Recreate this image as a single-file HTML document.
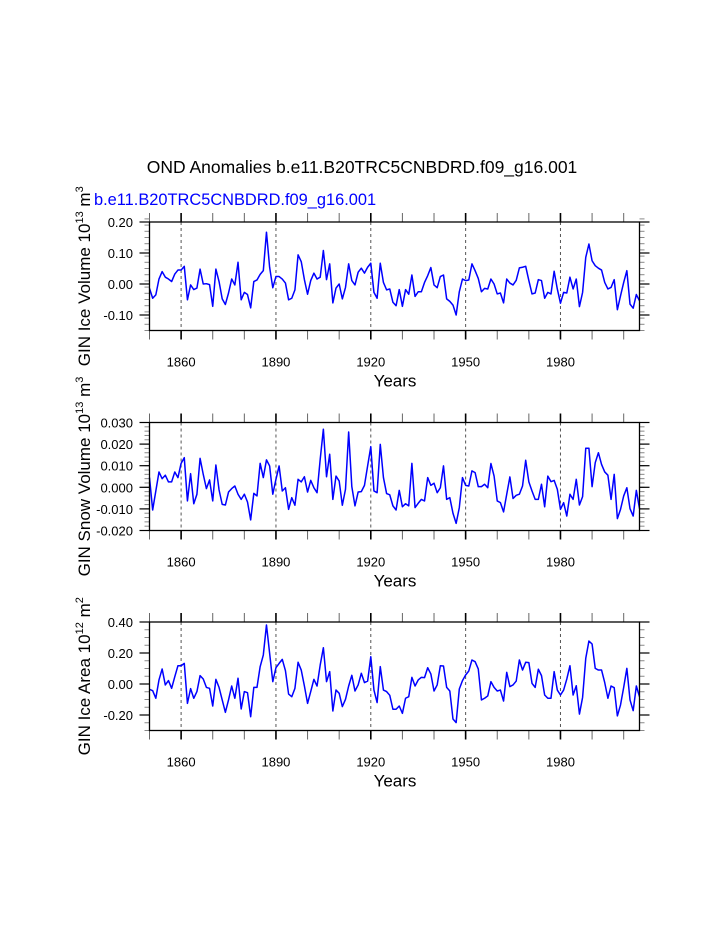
<!DOCTYPE html>
<html><head><meta charset="utf-8"><style>
html,body{margin:0;padding:0;background:#fff;}
svg{display:block;font-family:"Liberation Sans",Arial,sans-serif;}
</style></head><body>
<svg id="chart" width="723" height="935" xmlns="http://www.w3.org/2000/svg">
<text x="362" y="173" text-anchor="middle" font-size="17.5">OND Anomalies b.e11.B20TRC5CNBDRD.f09_g16.001</text>
<text x="94" y="205" font-size="16.4" fill="#0000ff">b.e11.B20TRC5CNBDRD.f09_g16.001</text>
</svg>
<script>
const startYear = 1850;
const xTicks = [1860, 1890, 1920, 1950, 1980];
const iceVolume = [-0.014,-0.046,-0.035,0.016,0.040,0.022,0.016,0.008,0.032,0.045,0.045,0.057,-0.051,-0.003,-0.018,-0.013,0.048,0.000,0.001,-0.002,-0.072,0.048,0.008,-0.048,-0.066,-0.029,0.016,-0.003,0.070,-0.051,-0.027,-0.034,-0.077,0.008,0.013,0.031,0.043,0.167,0.054,-0.012,0.024,0.024,0.016,0.003,-0.051,-0.046,-0.019,0.094,0.072,0.014,-0.033,0.011,0.035,0.016,0.022,0.108,0.014,0.065,-0.061,-0.013,0.000,-0.048,-0.011,0.065,0.011,-0.003,0.038,0.051,0.035,0.054,0.067,-0.027,-0.046,0.067,0.005,-0.019,-0.016,-0.059,-0.070,-0.018,-0.072,-0.018,-0.033,0.029,-0.040,-0.025,-0.025,0.005,0.027,0.053,-0.003,-0.012,0.024,0.029,-0.048,-0.056,-0.068,-0.100,-0.025,0.016,0.011,0.013,0.065,0.043,0.018,-0.025,-0.014,-0.016,0.016,0.000,-0.032,-0.029,-0.061,0.016,0.003,-0.003,0.012,0.052,0.054,0.057,0.011,-0.032,-0.029,0.014,0.011,-0.046,-0.027,-0.032,0.041,-0.016,-0.062,-0.027,-0.029,0.022,-0.016,0.016,-0.073,-0.027,0.086,0.129,0.075,0.059,0.051,0.045,0.005,-0.016,-0.011,0.014,-0.083,-0.038,0.005,0.043,-0.065,-0.078,-0.034,-0.054];
const snowVolume = [0.0045,-0.0105,-0.0017,0.0071,0.0040,0.0056,0.0025,0.0025,0.0071,0.0045,0.0111,0.0137,-0.0063,0.0063,-0.0076,-0.0032,0.0134,0.0060,-0.0006,0.0034,-0.0063,0.0103,-0.0012,-0.0079,-0.0082,-0.0022,-0.0006,0.0006,-0.0032,-0.0056,-0.0032,-0.0068,-0.0151,-0.0028,-0.0040,0.0111,0.0045,0.0127,0.0099,-0.0032,0.0037,0.0099,-0.0017,-0.0002,-0.0102,-0.0048,-0.0083,0.0037,0.0025,0.0049,-0.0022,0.0032,-0.0002,-0.0025,0.0130,0.0269,0.0049,0.0153,-0.0056,0.0052,0.0029,-0.0083,-0.0009,0.0256,0.0003,-0.0086,-0.0022,-0.0020,0.0009,0.0099,0.0188,-0.0017,-0.0025,0.0199,0.0045,-0.0029,-0.0035,-0.0086,-0.0105,-0.0014,-0.0090,-0.0076,-0.0086,0.0111,-0.0094,-0.0074,-0.0056,-0.0063,0.0045,0.0009,0.0019,-0.0025,-0.0002,0.0099,-0.0056,-0.0048,-0.0120,-0.0167,-0.0094,0.0045,0.0009,0.0006,0.0076,0.0068,0.0003,0.0003,0.0014,-0.0002,0.0110,0.0052,-0.0063,-0.0071,-0.0114,-0.0032,0.0048,-0.0052,-0.0037,-0.0032,0.0006,0.0125,0.0025,-0.0017,-0.0056,-0.0056,0.0014,-0.0090,0.0052,0.0026,0.0032,-0.0009,-0.0102,-0.0071,-0.0133,-0.0032,-0.0056,0.0037,-0.0082,-0.0043,0.0181,0.0181,0.0003,0.0114,0.0160,0.0106,0.0071,0.0056,-0.0056,0.0060,-0.0145,-0.0102,-0.0040,-0.0002,-0.0099,-0.0133,-0.0014,-0.0099];
const iceArea = [-0.034,-0.043,-0.092,0.026,0.097,-0.006,0.022,-0.028,0.047,0.118,0.118,0.133,-0.125,-0.030,-0.092,-0.049,0.054,0.032,-0.022,-0.028,-0.142,0.030,-0.022,-0.103,-0.183,-0.103,-0.013,-0.092,0.037,-0.161,-0.049,-0.056,-0.211,-0.022,-0.022,0.112,0.187,0.381,0.198,0.015,0.105,0.133,0.159,0.086,-0.065,-0.082,-0.028,0.140,0.090,-0.013,-0.125,-0.049,0.030,-0.013,0.123,0.234,0.015,0.080,-0.174,-0.039,-0.060,-0.146,-0.099,-0.013,0.056,-0.045,-0.006,0.069,0.009,0.019,0.176,-0.039,-0.120,0.112,-0.039,-0.049,-0.073,-0.163,-0.163,-0.142,-0.189,-0.092,-0.082,0.043,-0.013,0.026,0.043,0.041,0.105,0.065,-0.045,-0.006,0.118,0.116,-0.022,-0.045,-0.226,-0.249,-0.032,0.022,0.058,0.084,0.155,0.144,0.097,-0.103,-0.092,-0.077,0.015,-0.022,-0.045,-0.039,-0.110,0.075,-0.017,-0.006,0.019,0.155,0.090,0.140,0.138,0.004,-0.022,0.095,0.054,-0.071,-0.092,-0.092,0.080,-0.039,-0.071,-0.039,0.032,0.118,-0.071,-0.011,-0.194,-0.086,0.166,0.277,0.258,0.101,0.090,0.090,0.009,-0.092,-0.013,-0.024,-0.206,-0.135,-0.022,0.101,-0.103,-0.172,-0.013,-0.082];
const iceVolTicks = [0.20, 0.10, 0.00, -0.10];
const snowVolTicks = [0.030, 0.020, 0.010, 0.000, -0.010, -0.020];
const iceAreaTicks = [0.40, 0.20, 0.00, -0.20];

const NS = "http://www.w3.org/2000/svg";
const svg = document.getElementById("chart");
const X0 = 149.5, X1 = 639.5, YEAR_END = 2005;
function xs(yr){ return X0 + (yr - startYear) * (X1 - X0) / (YEAR_END - startYear); }
function mk(tag, attrs, parent){ const e = document.createElementNS(NS, tag); for (const k in attrs) e.setAttribute(k, attrs[k]); (parent||svg).appendChild(e); return e; }

function panel(cfg){
  const g = mk("g", {});
  
  
  const top = cfg.top, bot = cfg.bot;
  const ys = v => top + (cfg.ymax - v) * (bot - top) / (cfg.ymax - cfg.ymin);
  xTicks.forEach(yr => {
    const l = mk("line", {x1: xs(yr), x2: xs(yr), y1: top, y2: bot, stroke: "#555", "stroke-width": 1, "stroke-dasharray": "3,3"}, g);
    
    
  });
  for (let yr = 1850; yr <= 2005; yr += 10) {
    const major = (yr - 1860) % 30 === 0;
    const w = major ? 1.6 : 1;
    mk("line", {x1: xs(yr), x2: xs(yr), y1: top, y2: top - 9, stroke: major ? "#000" : "#666", "stroke-width": w}, g);
    mk("line", {x1: xs(yr), x2: xs(yr), y1: bot, y2: bot + 9, stroke: major ? "#000" : "#666", "stroke-width": w}, g);
  }
  const n = Math.round((cfg.ymax - cfg.ymin) / cfg.minor);
  for (let i = 0; i <= n; i++) {
    const v = cfg.ymin + i * cfg.minor, y = ys(v);
    mk("line", {x1: X0, x2: X0 - 5, y1: y, y2: y, stroke: "#888", "stroke-width": 1}, g);
    mk("line", {x1: X1, x2: X1 + 5, y1: y, y2: y, stroke: "#888", "stroke-width": 1}, g);
  }
  cfg.ticks.forEach(v => {
    const y = ys(v);
    mk("line", {x1: X0, x2: X0 - 10, y1: y, y2: y, stroke: "#000", "stroke-width": 1.2}, g);
    mk("line", {x1: X1, x2: X1 + 10, y1: y, y2: y, stroke: "#000", "stroke-width": 1.2}, g);
    const t = mk("text", {x: 133, y: y + 5, "text-anchor": "end", "font-size": 13}, g);
    t.textContent = v.toFixed(cfg.dec);
    
    
  });
  xTicks.forEach(yr => {
    const t = mk("text", {x: xs(yr), y: bot + 36, "text-anchor": "middle", "font-size": 13}, g);
    t.textContent = yr;
    
    
  });
  const pts = cfg.data.map((v, i) => xs(startYear + i).toFixed(2) + "," + ys(v).toFixed(2)).join(" ");
  const pl = mk("polyline", {points: pts, fill: "none", stroke: "#0000ff", "stroke-width": 1.5, "stroke-linejoin": "round"}, g);
  
  
  const fr = mk("rect", {x: X0, y: top, width: X1 - X0, height: bot - top, fill: "none", stroke: "#000", "stroke-width": 1.3}, g);
  
  
  const xt = mk("text", {x: 395, y: bot + 56, "text-anchor": "middle", "font-size": 17}, g);
  xt.textContent = "Years";
  
  
  const cy = (top + bot) / 2;
  const yt = mk("text", {x: 90, y: cy, "text-anchor": "middle", "font-size": 17, transform: "rotate(-90 90 " + cy + ")"}, g);
  yt.innerHTML = cfg.label + ' 10<tspan dy="-7" font-size="11">' + cfg.exp + '</tspan><tspan dy="7"> m</tspan><tspan dy="-7" font-size="11">' + cfg.unitExp + '</tspan>';
  
  
}

panel({name: "ice-volume", top: 222, bot: 330.5, ymax: 0.20, ymin: -0.15, minor: 0.02, ticks: iceVolTicks, dec: 2, data: iceVolume, label: "GIN Ice Volume", exp: "13", unitExp: "3"});
panel({name: "snow-volume", top: 422.5, bot: 530.5, ymax: 0.030, ymin: -0.020, minor: 0.002, ticks: snowVolTicks, dec: 3, data: snowVolume, label: "GIN Snow Volume", exp: "13", unitExp: "3"});
panel({name: "ice-area", top: 622, bot: 730.5, ymax: 0.40, ymin: -0.30, minor: 0.05, ticks: iceAreaTicks, dec: 2, data: iceArea, label: "GIN Ice Area", exp: "12", unitExp: "2"});
</script>
</body></html>
